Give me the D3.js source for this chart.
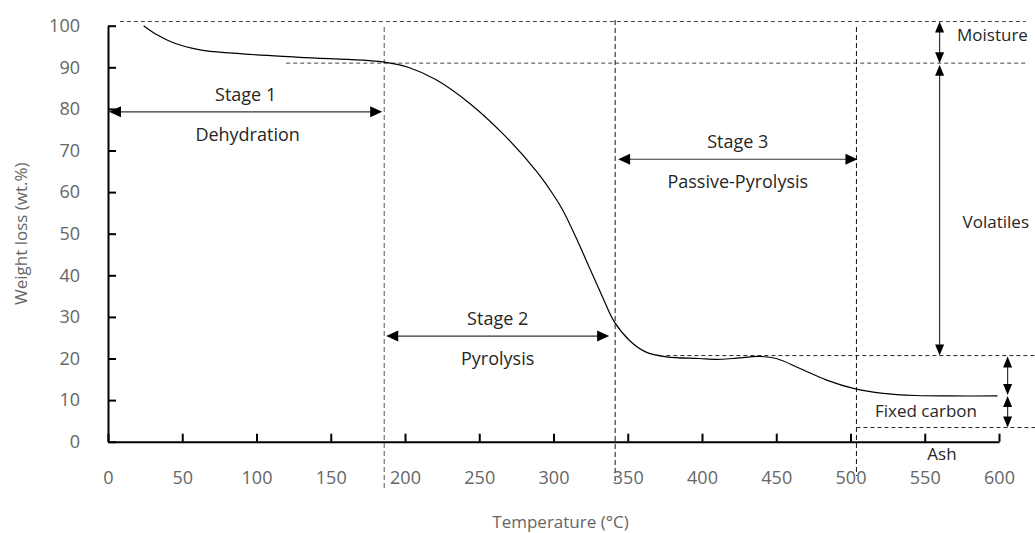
<!DOCTYPE html>
<html>
<head>
<meta charset="utf-8">
<script src="https://cdn.jsdelivr.net/npm/d3@7"></script>
<style>
  body { margin: 0; background: #fff; }
  text { font-family: "Open Sans", "Noto Sans", sans-serif; }
</style>
</head>
<body>
<div id="chart"></div>
<script>
// TGA curve (temperature in °C, weight in wt.%)
const temps   = [24, 33, 44, 62, 84, 129, 185, 203, 221, 244, 266, 289, 300, 306, 315, 324, 333, 341, 351, 362, 376, 398, 410, 421, 439, 450, 466, 484, 502, 522, 544, 567, 599];
const weights = [100, 97.8, 95.9, 94.2, 93.4, 92.4, 91.3, 89.9, 87.0, 81.2, 74.0, 64.8, 59.3, 55.8, 49.2, 42.0, 34.8, 28.8, 24.4, 21.6, 20.4, 20.0, 19.8, 20.0, 20.5, 20.0, 17.6, 14.8, 12.8, 11.6, 11.1, 11.0, 11.0];

const xTicks = [0, 50, 100, 150, 200, 250, 300, 350, 400, 450, 500, 550, 600];
const yTicks = [0, 10, 20, 30, 40, 50, 60, 70, 80, 90, 100];

// stage boundaries (°C) and the levels of the proximate analysis (wt.%)
const stageBounds = [0, 186, 341.5, 504];
const stageNames  = ['Stage 1', 'Stage 2', 'Stage 3'];
const stageLabels = ['Dehydration', 'Pyrolysis', 'Passive-Pyrolysis'];
const stageLevels = [79.3, 25.4, 67.9];
const levels      = [101, 91, 20.7, 11.2, 3.4];   // top, after moisture, after volatiles, mid, ash
const levelNames  = ['Moisture', 'Volatiles', 'Fixed carbon', 'Ash'];

const width = 1035, height = 533;

const svg = d3.select('#chart').append('svg')
    .attr('width', width)
    .attr('height', height);

const x = d3.scaleLinear().domain([0, 600]).range([108, 999]);
const y = d3.scaleLinear().domain([0, 100]).range([441.7, 25.7]);

// dashed guide lines
const guides = svg.append('g').attr('fill', 'none').attr('stroke-width', 1);

// horizontal ones
guides.append('line')
    .attr('x1', x(8)).attr('x2', x(618))
    .attr('y1', y(levels[0])).attr('y2', y(levels[0]))
    .attr('stroke', '#444').attr('stroke-dasharray', '4,3');
guides.append('line')
    .attr('x1', x(120)).attr('x2', x(618))
    .attr('y1', y(levels[1])).attr('y2', y(levels[1]))
    .attr('stroke', '#444').attr('stroke-dasharray', '4,3');
guides.append('line')
    .attr('x1', x(376)).attr('x2', width)
    .attr('y1', y(levels[2])).attr('y2', y(levels[2]))
    .attr('stroke', '#222').attr('stroke-dasharray', '4,3');
guides.append('line')
    .attr('x1', x(stageBounds[3])).attr('x2', width)
    .attr('y1', y(levels[4])).attr('y2', y(levels[4]))
    .attr('stroke', '#222').attr('stroke-dasharray', '4,3');

// vertical ones
guides.append('line')
    .attr('x1', x(stageBounds[1])).attr('x2', x(stageBounds[1]))
    .attr('y1', 27).attr('y2', 488)
    .attr('stroke', '#555').attr('stroke-dasharray', '5,3');
guides.append('line')
    .attr('x1', x(stageBounds[2])).attr('x2', x(stageBounds[2]))
    .attr('y1', 20).attr('y2', 482)
    .attr('stroke', '#111').attr('stroke-dasharray', '5,3');
guides.append('line')
    .attr('x1', x(stageBounds[3])).attr('x2', x(stageBounds[3]))
    .attr('y1', 27).attr('y2', 476)
    .attr('stroke', '#111').attr('stroke-dasharray', '5,3');

// axes
const xAxis = svg.append('g')
    .attr('transform', `translate(0,${y(0)})`)
    .call(d3.axisBottom(x).tickValues(xTicks).tickSizeInner(-8).tickSizeOuter(0).tickPadding(30));
const yAxis = svg.append('g')
    .attr('transform', `translate(${x(0)},0)`)
    .call(d3.axisLeft(y).tickValues(yTicks).tickSizeInner(-8).tickSizeOuter(0).tickPadding(28));

[xAxis, yAxis].forEach(a => {
    a.select('.domain').attr('stroke', '#000').attr('stroke-width', 2);
    a.selectAll('.tick line').attr('stroke', '#000').attr('stroke-width', 2);
    a.selectAll('.tick text')
        .attr('fill', '#666')
        .style('font-size', '18px')
        .style('font-family', '"Open Sans", sans-serif');
});

// axis titles
svg.append('text')
    .attr('transform', `translate(21,${y(50)}) rotate(-90)`)
    .attr('text-anchor', 'middle')
    .attr('dy', '0.35em')
    .attr('fill', '#666')
    .style('font-size', '17px')
    .text('Weight loss (wt.%)');
svg.append('text')
    .attr('x', x(300) + 7)
    .attr('y', 528)
    .attr('text-anchor', 'middle')
    .attr('fill', '#666')
    .style('font-size', '17px')
    .text('Temperature (°C)');

// the curve
const pts = temps.map((t, i) => [t, weights[i]]);
svg.append('path')
    .datum(pts)
    .attr('fill', 'none')
    .attr('stroke', '#000')
    .attr('stroke-width', 1.2)
    .attr('d', d3.line()
        .x(d => x(d[0]))
        .y(d => y(d[1]))
        .curve(d3.curveCatmullRom.alpha(0.5)));

// arrows
const ann = svg.append('g');

function head(px, py, dir, len, half) {
    // dir: 'l','r','u','d' -> direction the tip points
    let p;
    if (dir === 'l') p = [[px, py], [px + len, py - half], [px + len, py + half]];
    if (dir === 'r') p = [[px, py], [px - len, py - half], [px - len, py + half]];
    if (dir === 'u') p = [[px, py], [px - half, py + len], [px + half, py + len]];
    if (dir === 'd') p = [[px, py], [px - half, py - len], [px + half, py - len]];
    ann.append('path').attr('d', 'M' + p.join('L') + 'Z').attr('fill', '#000');
}

function hArrow(x1, x2, yy) {
    ann.append('line').attr('x1', x1 + 6).attr('x2', x2 - 6)
        .attr('y1', yy).attr('y2', yy)
        .attr('stroke', '#333').attr('stroke-width', 1.2);
    head(x1, yy, 'l', 12, 5.5);
    head(x2, yy, 'r', 12, 5.5);
}

function vArrow(xx, y1, y2, both) {
    ann.append('line').attr('x1', xx).attr('x2', xx)
        .attr('y1', y1 + (both ? 5 : 0)).attr('y2', y2 - 5)
        .attr('stroke', '#333').attr('stroke-width', 1.2);
    if (both) head(xx, y1, 'u', 11, 4.5);
    head(xx, y2, 'd', 11, 4.5);
}

const stageGap = [[1, -2], [2, -6], [3, 1]];
stageNames.forEach((name, i) => {
    const x1 = x(stageBounds[i]) + stageGap[i][0];
    const x2 = x(stageBounds[i + 1]) + stageGap[i][1];
    const yy = y(stageLevels[i]);
    hArrow(x1, x2, yy);
    const cx = (x1 + x2) / 2;
    ann.append('text')
        .attr('x', cx).attr('y', yy - 11)
        .attr('text-anchor', 'middle')
        .attr('fill', '#262626')
        .style('font-size', '18px')
        .text(name);
    ann.append('text')
        .attr('x', cx + (i === 0 ? 2 : 0)).attr('y', yy + 29)
        .attr('text-anchor', 'middle')
        .attr('fill', '#262626')
        .style('font-size', '18px')
        .text(stageLabels[i]);
});

// proximate analysis arrows on the right
const xm = x(560), xf = x(605.8);
vArrow(xm, y(levels[0]), y(levels[1]), true);
vArrow(xm, y(levels[1]) + 1.5, y(levels[2]), true);
vArrow(xf, y(levels[2]) + 1, y(levels[3]), true);
vArrow(xf, y(levels[3]) + 1, y(levels[4]), true);

ann.append('text').attr('x', 957).attr('y', 41)
    .attr('fill', '#262626').style('font-size', '17px').text(levelNames[0]);
ann.append('text').attr('x', 1029).attr('y', 228).attr('text-anchor', 'end')
    .attr('fill', '#262626').style('font-size', '17px').text(levelNames[1]);
ann.append('text').attr('x', 926).attr('y', 417).attr('text-anchor', 'middle')
    .attr('fill', '#262626').style('font-size', '17px').text(levelNames[2]);
ann.append('text').attr('x', 942).attr('y', 460).attr('text-anchor', 'middle')
    .attr('fill', '#262626').style('font-size', '17px').text(levelNames[3]);
</script>
</body>
</html>
